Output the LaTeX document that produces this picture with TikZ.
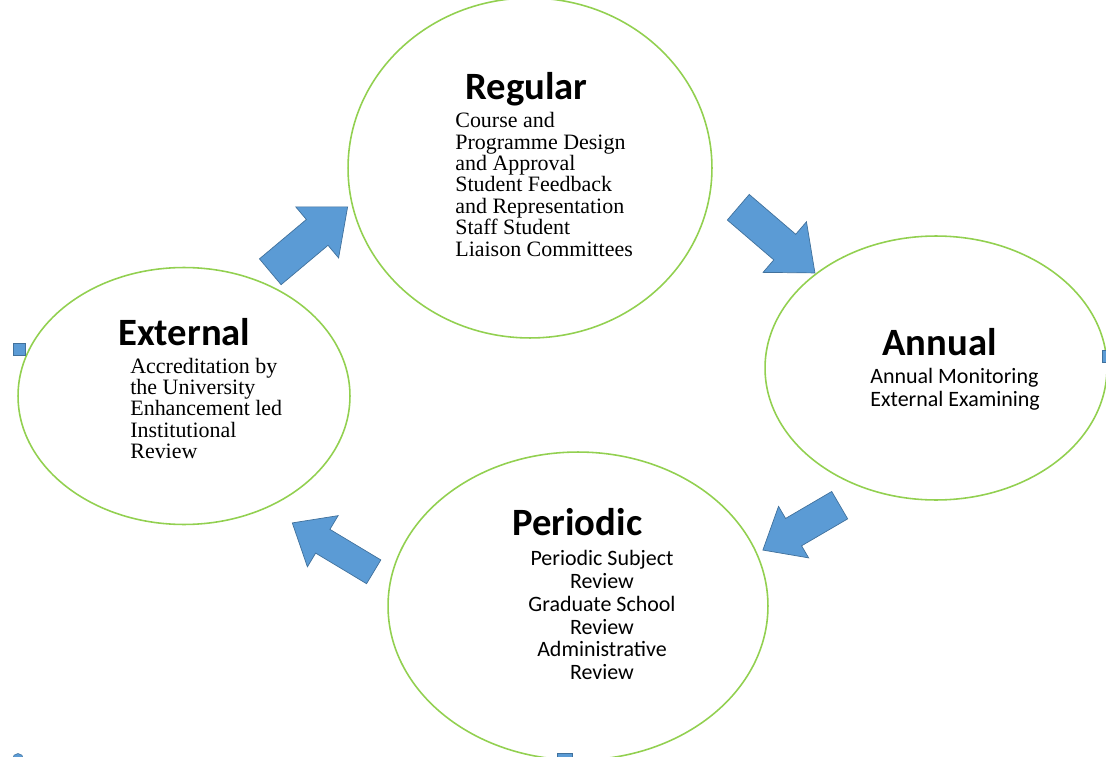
\documentclass[tikz,border=0pt]{standalone}
\usepackage{fontspec}
\setmainfont{Liberation Serif}
\newfontfamily\calibri{Carlito}
\usetikzlibrary{shapes.geometric,shapes.arrows}
\definecolor{ringgreen}{RGB}{146,208,80}
\definecolor{arrowblue}{RGB}{91,155,213}
\definecolor{arrowedge}{RGB}{65,113,156}

\begin{document}
\begin{tikzpicture}[x=0.02cm, y=-0.02cm,
    stage/.style={ellipse, draw=ringgreen, line width=0.9pt, inner sep=0pt},
    blockarrow/.style={single arrow, fill=arrowblue, draw=arrowedge, line width=0.4pt, inner xsep=0pt, single arrow head indent=0pt, single arrow tip angle=80, anchor=tail},
    title/.style={inner sep=0pt, anchor=base west, font=\calibri\bfseries\fontsize{22}{26}\selectfont},
    serifbody/.style={inner sep=0pt, anchor=north west, align=left, font=\fontsize{12.5}{12.2}\selectfont},
    sansbody/.style={inner sep=0pt, font=\calibri\fontsize{12.5}{13}\selectfont},
    handle/.style={rectangle, fill=arrowblue, draw=arrowedge, line width=0.3pt, inner sep=0pt, minimum size=0.24cm}]
    \useasboundingbox (0,0) rectangle (1106,757);

    % Stages
    \node (regular) [stage, minimum width=7.28cm, minimum height=6.8cm] at (530,168) {};
    \node (annual) [stage, minimum width=6.84cm, minimum height=5.28cm] at (936,368) {};
    \node (periodic) [stage, minimum width=7.6cm, minimum height=6.16cm] at (578,606) {};
    \node (external) [stage, minimum width=6.64cm, minimum height=5.14cm] at (184,396) {};

    % Titles and items
    \node (regulartitle) [title] at (465,100) {Regular};
    \node (regularitems) [serifbody] at (455,112) {
        Course and\\
        Programme Design\\
        and Approval\\
        Student Feedback\\
        and Representation\\
        Staff Student\\
        Liaison Committees
    };

    \node (annualtitle) [title] at (882,355) {Annual};
    \node (annualitems) [sansbody, anchor=north west, align=left] at (870,368) {
        Annual Monitoring\\
        External Examining
    };

    \node (periodictitle) [title] at (512,535) {Periodic};
    \node (periodicitems) [sansbody, anchor=north, align=center] at (602,550) {
        Periodic Subject\\
        Review\\
        Graduate School\\
        Review\\
        Administrative\\
        Review
    };

    \node (externaltitle) [title] at (118,345) {External};
    \node (externalitems) [serifbody, font=\fontsize{12.5}{12.05}\selectfont] at (130,358) {
        Accreditation by\\
        the University\\
        Enhancement led\\
        Institutional\\
        Review
    };

    % Cycle arrows (shaft width = 2 x inner ysep)
    \node (toregular) [blockarrow, rotate=40, inner ysep=0.33cm, minimum height=2.02cm, minimum width=1.32cm, single arrow head extend=0.33cm] at (270,272) {};
    \node (toannual) [blockarrow, rotate=-40.6, inner ysep=0.33cm, minimum height=2.02cm, minimum width=1.32cm, single arrow head extend=0.33cm] at (738,207) {};
    \node (toperiodic) [blockarrow, rotate=210.3, inner ysep=0.31cm, minimum height=1.78cm, minimum width=1.18cm, single arrow head extend=0.28cm] at (840,505) {};
    \node (toexternal) [blockarrow, rotate=149, inner ysep=0.27cm, minimum height=1.9cm, minimum width=1.18cm, single arrow head extend=0.32cm] at (374,572) {};

    % Selection handles
    \node (handleleft) [handle] at (19,349) {};
    \node (handleright) [handle] at (1108,356) {};
    \node (handlebottom) [handle, minimum width=0.3cm] at (565,759) {};
    \node (handlecorner) [handle, circle, minimum size=0.22cm] at (18,759) {};
\end{tikzpicture}
\end{document}
